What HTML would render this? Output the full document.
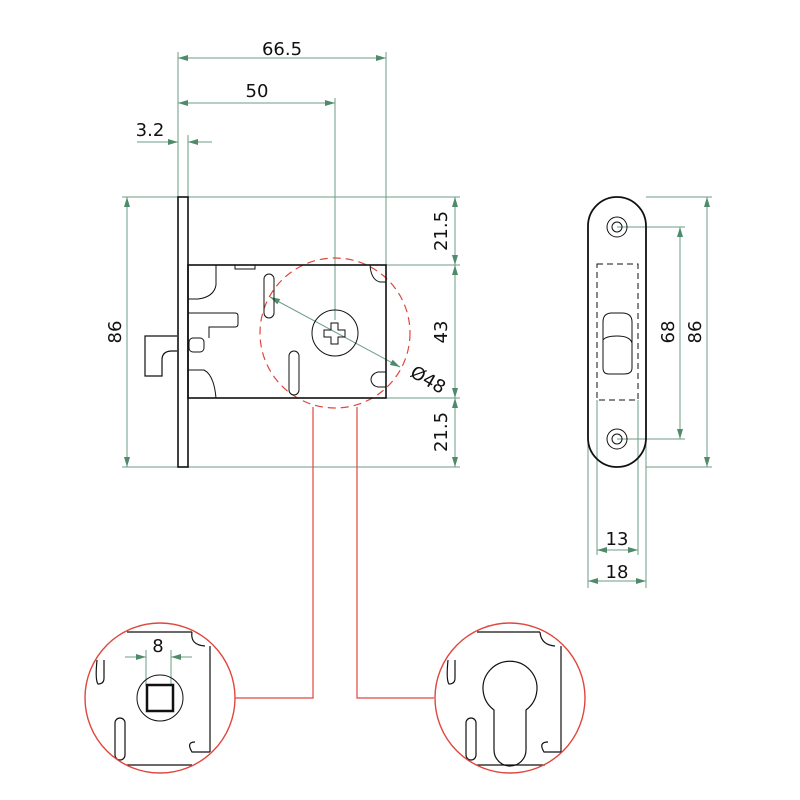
<!DOCTYPE html>
<html><head><style>html,body{margin:0;padding:0;background:#fff}svg{display:block}
text{font-family:"DejaVu Sans","Liberation Sans",sans-serif;font-size:18px;fill:#111}</style></head>
<body>
<svg width="800" height="800" viewBox="0 0 800 800" xmlns="http://www.w3.org/2000/svg">
<defs>
<marker id="a" viewBox="0 0 10 6" refX="10" refY="3" markerWidth="10" markerHeight="6" orient="auto-start-reverse" markerUnits="userSpaceOnUse"><path d="M0,0L10,3L0,6z" fill="#4f8a6b"/></marker>
</defs>
<g stroke="#6e9e85" stroke-width="1" fill="none">
<line x1="178" y1="52" x2="178" y2="197"/>
<line x1="188" y1="135" x2="188" y2="197"/>
<line x1="335" y1="98" x2="335" y2="320"/>
<line x1="386" y1="52" x2="386" y2="265"/>
<line x1="178" y1="58" x2="386" y2="58" marker-start="url(#a)" marker-end="url(#a)"/>
<line x1="178" y1="103" x2="335" y2="103" marker-start="url(#a)" marker-end="url(#a)"/>
<line x1="137" y1="142" x2="178" y2="142" marker-end="url(#a)"/>
<line x1="212" y1="142" x2="188" y2="142" marker-end="url(#a)"/>
<line x1="122" y1="197" x2="178" y2="197"/>
<line x1="122" y1="467" x2="178" y2="467"/>
<line x1="127" y1="197" x2="127" y2="467" marker-start="url(#a)" marker-end="url(#a)"/>
<line x1="188" y1="197" x2="460" y2="197"/>
<line x1="386" y1="265" x2="460" y2="265"/>
<line x1="386" y1="398" x2="460" y2="398"/>
<line x1="188" y1="467" x2="460" y2="467"/>
<line x1="455" y1="197" x2="455" y2="265" marker-start="url(#a)" marker-end="url(#a)"/>
<line x1="455" y1="265" x2="455" y2="398" marker-start="url(#a)" marker-end="url(#a)"/>
<line x1="455" y1="398" x2="455" y2="467" marker-start="url(#a)" marker-end="url(#a)"/>
<line x1="270" y1="297" x2="400" y2="367" marker-start="url(#a)" marker-end="url(#a)"/>
<line x1="617" y1="227" x2="685" y2="227"/>
<line x1="617" y1="439" x2="685" y2="439"/>
<line x1="646" y1="197" x2="712" y2="197"/>
<line x1="646" y1="467" x2="712" y2="467"/>
<line x1="680" y1="227" x2="680" y2="439" marker-start="url(#a)" marker-end="url(#a)"/>
<line x1="707" y1="197" x2="707" y2="467" marker-start="url(#a)" marker-end="url(#a)"/>
<line x1="597" y1="400" x2="597" y2="555"/>
<line x1="638" y1="400" x2="638" y2="555"/>
<line x1="588" y1="440" x2="588" y2="588"/>
<line x1="646" y1="440" x2="646" y2="588"/>
<line x1="597" y1="550" x2="638" y2="550" marker-start="url(#a)" marker-end="url(#a)"/>
<line x1="588" y1="581" x2="646" y2="581" marker-start="url(#a)" marker-end="url(#a)"/>
<line x1="146" y1="650" x2="146" y2="686"/>
<line x1="171" y1="650" x2="171" y2="686"/>
<line x1="125" y1="657" x2="146" y2="657" marker-end="url(#a)"/>
<line x1="192" y1="657" x2="171" y2="657" marker-end="url(#a)"/>
</g>
<g stroke="#e0463c" stroke-width="1.2" fill="none">
<circle cx="335" cy="333" r="75" stroke-dasharray="8,5"/>
<polyline points="313,407 313,698 235,698"/>
<polyline points="357,407 357,698 434,698"/>
</g>
<g stroke="#111" stroke-width="1.6" fill="none">
<rect x="178" y="197" width="10" height="270" fill="#fff"/>
<rect x="188" y="265" width="198" height="133"/>
<path d="M177,336H145V376H162V360Q162,351 172,351H177" stroke-width="1.2"/>
<g stroke-width="1">
<path d="M216,265V285Q214,297 198,299H188"/>
<path d="M188,313H235Q238,313 238,316V324Q238,327 235,327H209V338"/>
<rect x="189" y="338" width="15" height="14" rx="4"/>
<path d="M188,370H204Q214,375 216,398"/>
<rect x="235" y="265" width="20" height="4"/>
<rect x="264" y="274" width="10" height="44" rx="5"/>
<rect x="289" y="351" width="10" height="44" rx="5"/>
<path d="M386,282H380Q371,280 370,265"/>
<path d="M386,372H378Q371,374 371,380Q372,386 378,387H386"/>
<circle cx="335" cy="333" r="23"/>
<path d="M331,323h7v7h7v7h-7v7h-7v-7h-7v-7h7z"/>
</g>
</g>
<g stroke="#111" fill="none">
<rect x="588" y="197" width="58" height="270" rx="29" stroke-width="1.8"/>
<circle cx="617" cy="227" r="10" stroke-width="1"/><circle cx="617" cy="227" r="5" stroke-width="1"/>
<circle cx="617" cy="439" r="10" stroke-width="1"/><circle cx="617" cy="439" r="5" stroke-width="1"/>
<rect x="597" y="264" width="41" height="136" stroke-dasharray="6,4" stroke-width="1"/>
<path d="M603,338V322Q603,313 612,313H622Q632,313 632,322V368Q632,374 624,374H609Q603,374 603,368Z" stroke-width="1"/>
<path d="M603,340Q606,336 617,336Q630,336 632,343" stroke-width="1"/>
</g>
<g stroke="#111" fill="none" stroke-width="1.2">
<path d="M127,632H192M192,632Q190,645 205,646M210,646V752M127,765H192M195,742Q186,742 192,752H210"/>
<path d="M97,660Q95,680 98,684Q104,684 104,678V660"/>
<rect x="115" y="718" width="10" height="42" rx="5"/>
<circle cx="160" cy="698" r="23" stroke-width="1"/>
<rect x="147" y="685" width="26" height="26" stroke-width="2.5"/>
<path d="M477,632H540M540,632Q541,645 555,646M561,646V752M477,765H545M548,742Q538,742 544,752H561"/>
<path d="M448,660Q446,680 449,684Q455,684 455,678V660"/>
<rect x="466" y="718" width="10" height="42" rx="5"/>
<path d="M494,710A27,27 0 1 1 526,710V750A16,16 0 0 1 494,750Z"/>
</g>
<g stroke="#e0463c" stroke-width="1.4" fill="none">
<circle cx="160" cy="698" r="75"/>
<circle cx="510" cy="698" r="75"/>
</g>
<text x="282" y="55" text-anchor="middle">66.5</text>
<text x="257" y="97" text-anchor="middle">50</text>
<text x="150" y="136" text-anchor="middle">3.2</text>
<text transform="translate(121,332) rotate(-90)" text-anchor="middle">86</text>
<text transform="translate(447,231) rotate(-90)" text-anchor="middle">21.5</text>
<text transform="translate(447,332) rotate(-90)" text-anchor="middle">43</text>
<text transform="translate(447,432) rotate(-90)" text-anchor="middle">21.5</text>
<text transform="translate(425,385) rotate(30)" text-anchor="middle">Ø48</text>
<text transform="translate(674,332) rotate(-90)" text-anchor="middle">68</text>
<text transform="translate(701,332) rotate(-90)" text-anchor="middle">86</text>
<text x="617" y="545" text-anchor="middle">13</text>
<text x="617" y="578" text-anchor="middle">18</text>
<text x="158" y="652" text-anchor="middle">8</text>
</svg>
</body></html>
